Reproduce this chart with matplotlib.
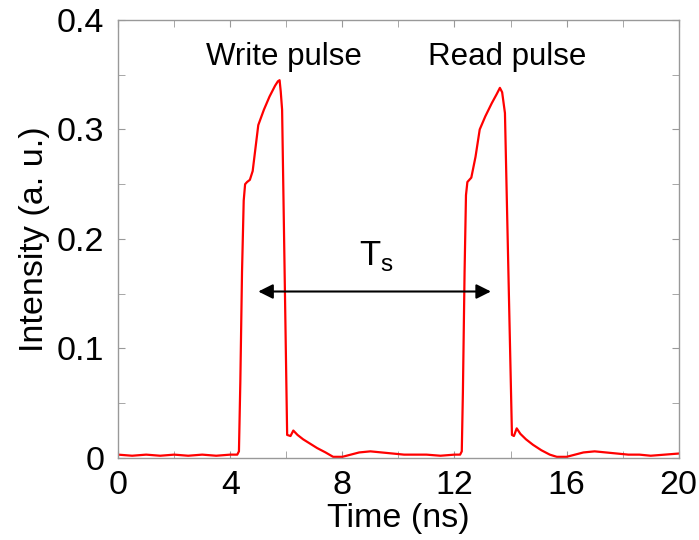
import matplotlib
matplotlib.use("Agg")
import matplotlib.pyplot as plt
from matplotlib.ticker import MultipleLocator

plt.rcParams['font.family'] = ['Liberation Sans', 'DejaVu Sans']
plt.rcParams['mathtext.fontset'] = 'custom'
plt.rcParams['mathtext.rm'] = 'Liberation Sans'

time_ns = [0.0, 0.5, 1.0, 1.5, 2.0, 2.5, 3.0, 3.5, 4.0, 4.25, 4.31, 4.36, 4.42, 4.48, 4.53,
           4.6, 4.7, 4.8, 5.0, 5.2, 5.4, 5.6, 5.7, 5.76, 5.8, 5.85, 6.03, 6.15, 6.25,
           6.4, 6.6, 6.85, 7.1, 7.4, 7.67, 8.0, 8.3, 8.6, 9.0, 9.4, 9.8, 10.2, 10.6, 11.0,
           11.5, 12.0, 12.2, 12.26, 12.3, 12.36, 12.41, 12.46, 12.6, 12.75, 12.9, 13.1,
           13.33, 13.5, 13.62, 13.7, 13.8, 14.05, 14.12, 14.22, 14.35, 14.55,
           14.8, 15.1, 15.4, 15.65, 16.0, 16.3, 16.6, 17.0, 17.4, 17.8, 18.2, 18.6, 19.0,
           19.5, 20.0]
intensity = [0.003, 0.002, 0.003, 0.002, 0.003, 0.002, 0.003, 0.002, 0.003, 0.003, 0.006,
             0.07, 0.17, 0.235, 0.250, 0.252, 0.254, 0.262, 0.304, 0.318, 0.330, 0.340, 0.344,
             0.345, 0.335, 0.318, 0.021, 0.020, 0.025, 0.021, 0.017, 0.013, 0.009, 0.005,
             0.001, 0.001, 0.003, 0.005, 0.006, 0.005, 0.004, 0.003, 0.003, 0.003, 0.002, 0.003,
             0.003, 0.006, 0.06, 0.17, 0.240, 0.252, 0.256, 0.275, 0.300, 0.312, 0.324, 0.332,
             0.338, 0.334, 0.315, 0.021, 0.020, 0.027, 0.022, 0.017, 0.012, 0.007,
             0.003, 0.001, 0.001, 0.003, 0.005, 0.006, 0.005, 0.004, 0.003, 0.003, 0.002, 0.003,
             0.004]

fig = plt.figure(figsize=(6.99, 5.40), dpi=100)
ax = fig.add_axes([0.169, 0.152, 0.802, 0.811])
ax.plot(time_ns, intensity, color='#ff0000', lw=1.6)

ax.set_xlim(0, 20)
ax.set_ylim(0, 0.4)
ax.set_xticks([0, 4, 8, 12, 16, 20])
ax.set_xticklabels(['0', '4', '8', '12', '16', '20'])
ax.xaxis.set_minor_locator(MultipleLocator(2))
ax.set_yticks([0, 0.1, 0.2, 0.3, 0.4])
ax.set_yticklabels(['0', '0.1', '0.2', '0.3', '0.4'])
ax.yaxis.set_minor_locator(MultipleLocator(0.05))
ax.tick_params(which='both', direction='in', color='#999999', labelsize=24.5,
               top=True, right=True, length=5)
ax.tick_params(axis='x', pad=9)
ax.tick_params(axis='y', pad=10)
for s in ax.spines.values():
    s.set_color('#999999')
    s.set_linewidth(1.0)

ax.set_xlabel('Time (ns)', fontsize=24.5, labelpad=1)
ax.set_ylabel('Intensity (a. u.)', fontsize=24.5, labelpad=5)

ax.text(5.92, 0.359, 'Write pulse', fontsize=22.5, ha='center', va='baseline')
ax.text(13.87, 0.359, 'Read pulse', fontsize=22.5, ha='center', va='baseline')
ax.annotate('', xy=(5.0, 0.152), xytext=(13.3, 0.152),
            arrowprops=dict(arrowstyle='<|-|>', color='black', lw=1.5,
                            mutation_scale=22, shrinkA=0, shrinkB=0))
ax.text(9.2, 0.176, r'T$_\mathregular{s}$', fontsize=25, ha='center', va='baseline')

fig.savefig('out.png', dpi=100)
